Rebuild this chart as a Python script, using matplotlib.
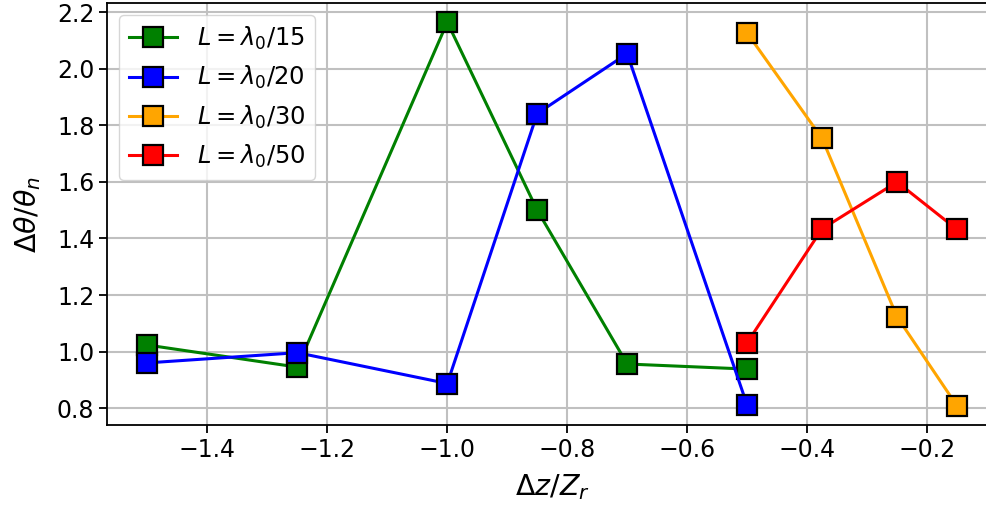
import matplotlib
matplotlib.use('Agg')
import matplotlib.pyplot as plt

# 数据
x15 = [-1.5, -1.25, -1.0, -0.85, -0.7, -0.5]
y15 = [1.023, 0.945, 2.165, 1.50, 0.956, 0.938]
x20 = [-1.5, -1.25, -1.0, -0.85, -0.7, -0.5]
y20 = [0.960, 0.996, 0.887, 1.842, 2.054, 0.811]
x30 = [-0.5, -0.375, -0.25, -0.15]
y30 = [2.127, 1.754, 1.123, 0.808]
x50 = [-0.5, -0.375, -0.25, -0.15]
y50 = [1.031, 1.434, 1.600, 1.432]

labels = [r'$L = \lambda_0/15$', r'$L = \lambda_0/20$',
          r'$L = \lambda_0/30$', r'$L = \lambda_0/50$']
colors = ['green', 'blue', 'orange', 'red']

fig = plt.figure(figsize=(9.87, 5.09), dpi=100)
ax = fig.add_axes([0.1084, 0.165, 0.9022, 0.829])

for xs, ys, c, lab in zip([x15, x20, x30, x50], [y15, y20, y30, y50], colors, labels):
    ax.plot(xs, ys, '-s', color=c, markerfacecolor=c, markeredgecolor='black',
            markersize=15, markeredgewidth=1.6, linewidth=2.2, label=lab)

ax.grid(True, color='#c0c0c0', linewidth=1.5)
ax.set_axisbelow(True)
ax.tick_params(labelsize=17, length=5.5, width=1.3)
for s in ax.spines.values():
    s.set_linewidth(1.3)
ax.set_xlabel(r'$\Delta z/Z_r$', fontsize=20.5, labelpad=8)
ax.set_ylabel(r'$\Delta\theta/\theta_n$', fontsize=20.5, labelpad=10)
ax.legend(loc='upper left', fontsize=17.5)

fig.savefig('out.png', dpi=100)
